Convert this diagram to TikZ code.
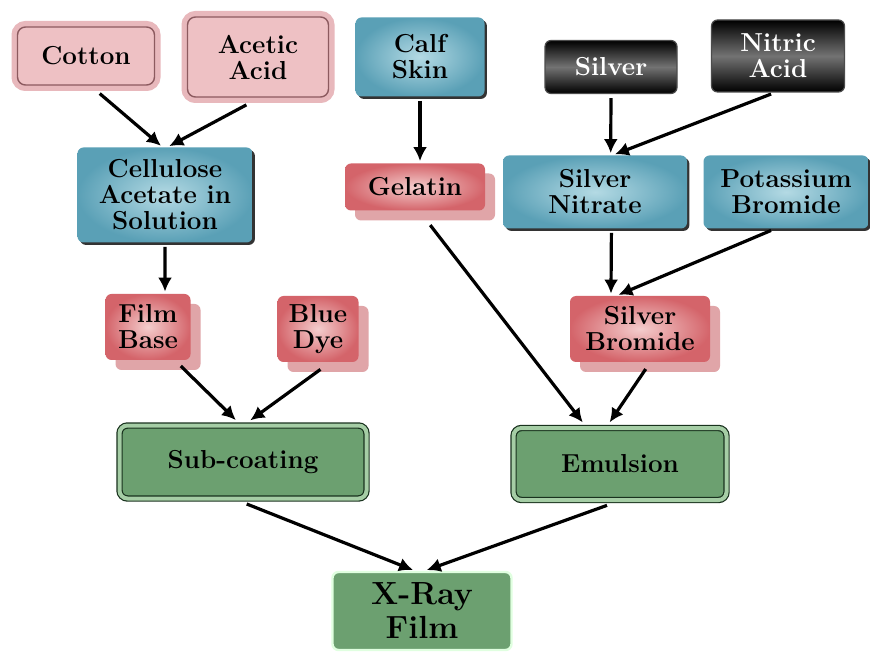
\documentclass[tikz,border=0pt]{standalone}
\usetikzlibrary{arrows.meta,shadows}
\definecolor{pinkfill}{RGB}{238,193,196}
\definecolor{pinkband}{RGB}{232,184,188}
\definecolor{pinkline}{RGB}{140,90,95}
\definecolor{bluein}{RGB}{180,218,228}
\definecolor{blueout}{RGB}{90,160,182}
\definecolor{redin}{RGB}{244,205,205}
\definecolor{redout}{RGB}{212,100,106}
\definecolor{redshadow}{RGB}{224,165,168}
\definecolor{greenfill}{RGB}{108,160,112}
\definecolor{greenline}{RGB}{25,50,30}
\definecolor{greenband}{RGB}{165,205,165}
\begin{document}
\begin{tikzpicture}[x=0.5pt, y=-0.5pt,
		box/.style={rounded corners=3pt, inner sep=0pt, align=center, font=\fontsize{13}{13}\selectfont\bfseries},
		pinkbox/.style={box, rounded corners=4pt, fill=pinkfill, draw=pinkline, line width=0.7pt, outer sep=3pt,
			preaction={draw=pinkband, line width=6pt}},
		bluebox/.style={box, inner color=bluein, outer color=blueout,
			drop shadow={shadow xshift=1.2pt, shadow yshift=-1.2pt, fill=black!80, opacity=1}},
		redbox/.style={box, inner color=redin, outer color=redout,
			drop shadow={shadow xshift=5pt, shadow yshift=-5pt, fill=redshadow, opacity=1}},
		blackbox/.style={box, top color=black, bottom color=black, middle color=black!55, text=white,
			draw=black!70, line width=0.6pt},
		greenbox/.style={box, rounded corners=4pt, fill=greenfill, draw=greenline, line width=0.6pt,
			double=greenband, double distance=2pt, outer sep=2pt},
		filmbox/.style={box, rounded corners=3pt, fill=greenfill, draw=green!12!white, line width=1.2pt,
			font=\fontsize{16}{17}\selectfont\bfseries},
		arr/.style={-{Latex[length=7pt,width=7pt]}, line width=1.6pt, shorten <=2pt, shorten >=1pt}
		]
	\useasboundingbox (0,0) rectangle (870,656);
	\fill[white] (0,0) rectangle (870,656);
	% raw materials
	\node [pinkbox, minimum width=68.5pt, minimum height=29pt] (cotton) at (86,56) {Cotton};
	\node [pinkbox, minimum width=70.5pt, minimum height=40pt] (acetic) at (258,57) {Acetic\\Acid};
	\node [bluebox, minimum width=64.5pt, minimum height=39.5pt] (calf) at (420,57) {Calf\\Skin};
	\node [blackbox, minimum width=66pt, minimum height=26.5pt] (silver) at (611,67) {Silver};
	\node [blackbox, minimum width=66.5pt, minimum height=36pt] (nitric) at (778,56) {Nitric\\Acid};
	% second row
	\node [bluebox, minimum width=87.5pt, minimum height=47.5pt] (cellulose) at (165,195) {Cellulose\\Acetate in\\Solution};
	\node [redbox, minimum width=70pt, minimum height=23.5pt] (gelatin) at (415,187) {Gelatin};
	\node [bluebox, minimum width=92pt, minimum height=36.5pt] (nitrate) at (595,192) {Silver\\Nitrate};
	\node [bluebox, minimum width=82.5pt, minimum height=36.5pt] (potassium) at (786,192) {Potassium\\Bromide};
	% third row
	\node [redbox, minimum width=42.5pt, minimum height=33pt] (filmbase) at (148,327) {Film\\Base};
	\node [redbox, minimum width=40.5pt, minimum height=33pt] (bluedye) at (318,329) {Blue\\Dye};
	\node [redbox, minimum width=70pt, minimum height=33pt] (bromide) at (640,329) {Silver\\Bromide};
	% layers and film
	\node [greenbox, minimum width=123.5pt, minimum height=36.5pt] (subcoat) at (243,462) {Sub-coating};
	\node [greenbox, minimum width=106.5pt, minimum height=36pt] (emulsion) at (620,464) {Emulsion};
	\node [filmbox, minimum width=89.5pt, minimum height=39pt] (xray) at (422,611) {X-Ray\\Film};
	% arrows
	\draw [arr] (cotton.-73) -- (cellulose.93);
	\draw [arr] (acetic.-100) -- (cellulose.87);
	\draw [arr] (calf.south) -- (gelatin.north -| calf.south);
	\draw [arr] (silver.south) -- (nitrate.67);
	\draw [arr] (nitric.-95) -- (nitrate.64);
	\draw [arr] (cellulose.south) -- (filmbase.63);
	\draw [arr, shorten <=9pt] (gelatin.-80) -- (emulsion.132);
	\draw [arr] (nitrate.-66) -- (bromide.131);
	\draw [arr] (potassium.-107) -- (bromide.125);
	\draw [arr, shorten <=4pt] (filmbase.-51) -- (subcoat.98);
	\draw [arr, shorten <=6pt] (bluedye.-70) -- (subcoat.82);
	\draw [arr, shorten <=4pt] (bromide.-73) -- (emulsion.106);
	\draw [arr] (subcoat.south) -- (xray.100);
	\draw [arr] (emulsion.-103) -- (xray.86);
\end{tikzpicture}
\end{document}
